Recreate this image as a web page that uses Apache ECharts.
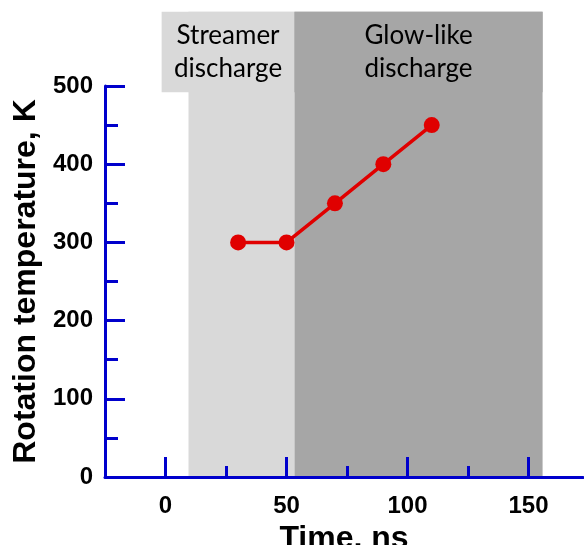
<!DOCTYPE html>
<html>
<head>
<meta charset="utf-8">
<script src="https://cdn.jsdelivr.net/npm/echarts@6/dist/echarts.min.js"></script>
<style>
	html, body { margin: 0; padding: 0; background: #fff; }
	#chart { width: 584px; height: 545px; }
</style>
</head>
<body>
<div id="chart"></div>
<script>
	// measured points
	var timeNs = [30, 50, 70, 90, 110];
	var rotTempK = [300, 300, 350, 400, 450];

	// shaded discharge regions (x in ns, header box in K)
	var regionNames = ['Streamer\ndischarge', 'Glow-like\ndischarge'];
	var regionStart = [9.5, 53.3];
	var regionEnd = [53.3, 155.8];
	var regionHeaderStart = [-1.6, 53.3];
	var regionColors = ['#d9d9d9', '#a6a6a6'];
	var headerBottom = 492;
	var regionTop = 595;

	var xMajorTicks = [0, 50, 100, 150];
	var xMinorTicks = [25, 75, 125];

	var colors = {
		axis: '#0000cc',
		series: '#e00000',
		text: '#000000'
	};

	var chart = echarts.init(document.getElementById('chart'));

	var regionData = [];
	for (var i = 0; i < regionNames.length; i++) {
		regionData.push([regionStart[i], regionEnd[i], regionHeaderStart[i], i]);
	}

	function renderRegion(params, api) {
		var x0 = api.value(0), x1 = api.value(1), hx0 = api.value(2);
		var idx = api.value(3);
		var bl = api.coord([x0, 0]);
		var tr = api.coord([x1, regionTop]);
		var hl = api.coord([hx0, headerBottom]);
		var fill = regionColors[idx];
		return {
			type: 'group',
			children: [
				{
					type: 'rect',
					shape: { x: bl[0], y: tr[1], width: tr[0] - bl[0], height: bl[1] - tr[1] },
					style: { fill: fill }
				},
				{
					type: 'rect',
					shape: { x: hl[0], y: tr[1], width: tr[0] - hl[0], height: hl[1] - tr[1] },
					style: { fill: fill }
				},
				{
					type: 'text',
					x: (hl[0] + tr[0]) / 2,
					y: (hl[1] + tr[1]) / 2,
					style: {
						text: regionNames[idx],
						fill: colors.text,
						font: '26px Lato',
						lineHeight: 33,
						align: 'center',
						verticalAlign: 'middle'
					}
				}
			]
		};
	}

	var tickLabelStyle = {
		color: colors.text,
		fontFamily: 'Liberation Sans',
		fontWeight: 'bold',
		fontSize: 24
	};

	var titleStyle = {
		color: colors.text,
		fontFamily: 'Liberation Sans',
		fontWeight: 'bold',
		fontSize: 32
	};

	var option = {
		animation: false,
		grid: {
			left: 105,
			right: 1,
			top: 86,
			bottom: 68,
			outerBoundsMode: 'none',
			containLabel: false
		},
		xAxis: [
			{
				type: 'value',
				min: -25,
				max: 172.5,
				name: 'Time, ns',
				nameLocation: 'middle',
				nameGap: 37,
				nameTextStyle: titleStyle,
				splitLine: { show: false },
				axisLine: { show: true, onZero: false, lineStyle: { color: colors.axis, width: 3 } },
				axisTick: {
					show: true, inside: true, length: 20,
					customValues: xMajorTicks,
					lineStyle: { color: colors.axis, width: 3 }
				},
				axisLabel: {
					customValues: xMajorTicks,
					margin: 17,
					textStyle: tickLabelStyle
				}
			},
			{
				type: 'value',
				min: -25,
				max: 172.5,
				position: 'bottom',
				splitLine: { show: false },
				axisLine: { show: false },
				axisTick: {
					show: true, inside: true, length: 11,
					customValues: xMinorTicks,
					lineStyle: { color: colors.axis, width: 3 }
				},
				axisLabel: { show: false }
			}
		],
		yAxis: [
			{
				type: 'value',
				min: 0,
				max: 500,
				interval: 100,
				name: 'Rotation temperature, K',
				nameLocation: 'middle',
				nameGap: 63,
				nameTextStyle: titleStyle,
				splitLine: { show: false },
				axisLine: { show: true, onZero: false, lineStyle: { color: colors.axis, width: 3 } },
				axisTick: { show: true, inside: true, length: 20, lineStyle: { color: colors.axis, width: 3 } },
				minorTick: { show: true, splitNumber: 2, length: 13, lineStyle: { color: colors.axis, width: 3 } },
				axisLabel: {
					margin: 12,
					textStyle: tickLabelStyle
				}
			}
		],
		series: [
			{
				type: 'custom',
				renderItem: renderRegion,
				clip: false,
				silent: true,
				z: 0,
				data: regionData
			},
			{
				type: 'line',
				data: timeNs.map(function (t, i) { return [t, rotTempK[i]]; }),
				symbol: 'circle',
				symbolSize: 16,
				z: 5,
				lineStyle: { color: colors.series, width: 3.5 },
				itemStyle: { color: colors.series }
			}
		]
	};

	chart.setOption(option);
</script>
</body>
</html>
